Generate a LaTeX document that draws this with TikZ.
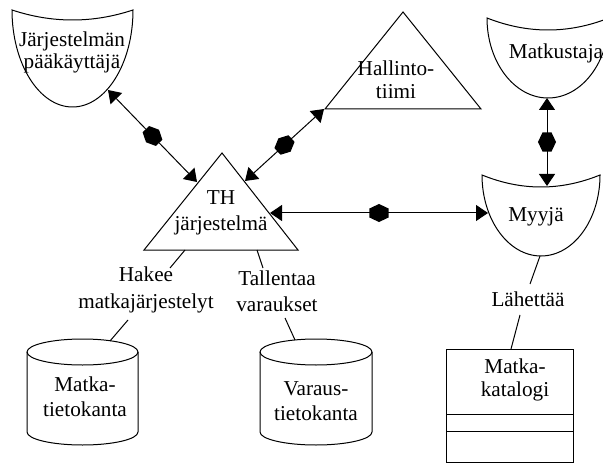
\documentclass[tikz,border=0pt]{standalone}
\usepackage{fontspec}
\setmainfont{Liberation Serif}
\usetikzlibrary{arrows.meta,shapes.geometric}

% actor "bowl": sagging top edge over a half ellipse
% #1 centre x, #2 top y, #3 x radius, #4 y radius, #5 sag of the top edge
\newcommand\drawbowl[5]{%
  \draw ({#1-#3},#2)
    .. controls ({#1-#3/3},{#2+4*#5/3}) and ({#1+#3/3},{#2+4*#5/3}) .. ({#1+#3},#2)
    .. controls ({#1+#3},{#2+0.552*#4}) and ({#1+0.552*#3},{#2+#4}) .. (#1,{#2+#4})
    .. controls ({#1-0.552*#3},{#2+#4}) and ({#1-#3},{#2+0.552*#4}) .. ({#1-#3},#2)
    -- cycle;}

% database cylinder: #1 centre x, #2 centre y of the lid, #3 x radius, #4 y radius, #5 height
\newcommand\drawcyl[5]{%
  \draw ({#1-#3},#2)
    .. controls ({#1-#3},{#2-0.552*#4}) and ({#1-0.552*#3},{#2-#4}) .. (#1,{#2-#4})
    .. controls ({#1+0.552*#3},{#2-#4}) and ({#1+#3},{#2-0.552*#4}) .. ({#1+#3},#2)
    .. controls ({#1+#3},{#2+0.552*#4}) and ({#1+0.552*#3},{#2+#4}) .. (#1,{#2+#4})
    .. controls ({#1-0.552*#3},{#2+#4}) and ({#1-#3},{#2+0.552*#4}) .. ({#1-#3},#2)
    -- cycle;
  \draw ({#1-#3},#2) -- ({#1-#3},{#2+#5})
    .. controls ({#1-#3},{#2+#5+0.552*#4}) and ({#1-0.552*#3},{#2+#5+#4}) .. (#1,{#2+#5+#4})
    .. controls ({#1+0.552*#3},{#2+#5+#4}) and ({#1+#3},{#2+#5+0.552*#4}) .. ({#1+#3},{#2+#5})
    -- ({#1+#3},#2);}

\begin{document}
\begin{tikzpicture}[x=0.5pt,y=-0.5pt,line width=0.5pt,
  lbl/.style={align=center,inner sep=0pt,font=\fontsize{10.6}{#1}\selectfont},
  lbl/.default=12.5pt,
  link/.style={{Triangle[length=6pt,width=8pt]}-{Triangle[length=6pt,width=8pt]}},
  hexdot/.style={regular polygon,regular polygon sides=6,shape border rotate=90,
    fill=black,draw=none,minimum size=11pt,inner sep=0pt,
    sloped,pos=0.5,yscale=0.82,transform shape}]

\useasboundingbox (0,0) rectangle (603,464);
\clip (0,0) rectangle (603,464);

% actors
\drawbowl{72.5}{10}{60.5}{97}{10}
\drawbowl{548}{18}{61}{80}{12}
\drawbowl{541}{175}{59}{81}{12}

% triangles
\draw (222,153) -- (298,250) -- (144,250) -- cycle;
\draw (403,12) -- (481,109) -- (325,109) -- cycle;

% data stores
\drawcyl{82.5}{352}{55.5}{13}{80}
\drawcyl{316}{352}{56}{13}{80}

% catalogue class box
\draw (446,349) rectangle (573,462);
\draw (446,414) -- (573,414);
\draw (446,431) -- (573,431);

% texts
\node[lbl=11pt] (admin) at (72,52) {Järjestelmän\\pääkäyttäjä};
\node[lbl] (matkustaja) at (556,53) {Matkustaja};
\node[lbl] (myyja) at (536,217) {Myyjä};
\node[lbl=13pt] (th) at (221,213) {TH\\järjestelmä};
\node[lbl=11.5pt] (hallinto) at (396,80) {Hallinto-\\tiimi};
\node[lbl=13.5pt] (hakee) at (146,290) {Hakee\\matkajärjestelyt};
\node[lbl=13pt] (tallentaa) at (277,291) {Tallentaa\\varaukset};
\node[lbl] (lahettaa) at (528,299) {Lähettää};
\node[lbl] (matkadb) at (85,397) {Matka-\\tietokanta};
\node[lbl] (varausdb) at (316,401) {Varaus-\\tietokanta};
\node[lbl=11.5pt] (katalogi) at (515,380) {Matka-\\katalogi};

% connection points on the shapes
\coordinate (admin-se) at (108,90);
\coordinate (th-w) at (197,182);
\coordinate (th-ne) at (245,181);
\coordinate (hallinto-sw) at (324,109);
\coordinate (th-e) at (270,213);
\coordinate (myyja-w) at (488,213);
\coordinate (matkustaja-s) at (547,98);
\coordinate (myyja-n) at (547,186);
\coordinate (th-s1) at (185,250);
\coordinate (th-s2) at (257,250);
\coordinate (myyja-s) at (540,256);
\coordinate (matkadb-n) at (110,341);
\coordinate (varausdb-n) at (295,340);
\coordinate (katalogi-n) at (511,349);
\coordinate (hakee-n) at (170,268);
\coordinate (hakee-s) at (128,320);
\coordinate (tallentaa-n) at (263,268);
\coordinate (tallentaa-s) at (285,318);
\coordinate (lahettaa-n) at (530,284);
\coordinate (lahettaa-s) at (520,315);

% two-way links
\draw[link] (admin-se) -- node[hexdot]{} (th-w);
\draw[link] (th-ne) -- node[hexdot]{} (hallinto-sw);
\draw[link] (th-e) -- node[hexdot]{} (myyja-w);
\draw[link] (matkustaja-s) -- node[hexdot]{} (myyja-n);

% labelled associations
\draw (th-s1) -- (hakee-n);
\draw (hakee-s) -- (matkadb-n);
\draw (th-s2) -- (tallentaa-n);
\draw (tallentaa-s) -- (varausdb-n);
\draw (myyja-s) -- (lahettaa-n);
\draw (lahettaa-s) -- (katalogi-n);
\end{tikzpicture}
\end{document}
